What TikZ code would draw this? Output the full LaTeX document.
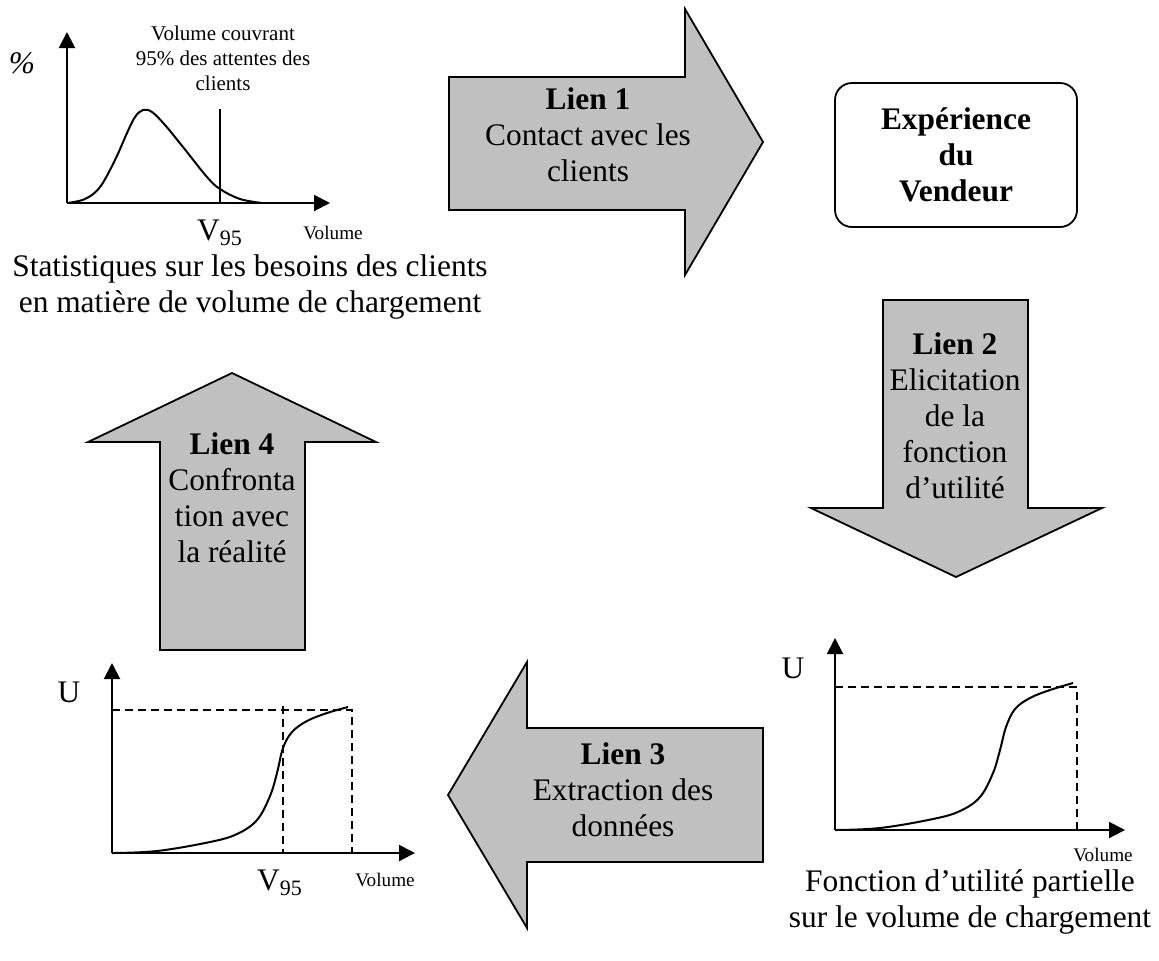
\documentclass[tikz,border=0pt]{standalone}
\usepackage{fontspec}
\setmainfont{Liberation Serif}
\usetikzlibrary{arrows.meta,positioning}
\definecolor{liengray}{RGB}{192,192,192}
\tikzset{>={Triangle[width=8pt,length=8pt]}}

\begin{document}
\begin{tikzpicture}[x=0.5pt,y=-0.5pt,
    lien/.style={draw, fill=liengray, line width=0.9pt},
    axe/.style={->, line width=1pt},
    guide/.style={line width=0.9pt, dash pattern=on 4pt off 2.5pt},
    courbe/.style={line width=1pt},
    txt/.style={font=\fontsize{15.7}{18}\selectfont, align=center},
    petit/.style={font=\fontsize{10.5}{12.5}\selectfont, align=center},
    axlabel/.style={font=\fontsize{9.6}{11}\selectfont}
  ]
  \useasboundingbox (0,0) rectangle (1159,960);

  % statistiques (haut gauche)
  \coordinate (o1) at (67,203);
  \draw[axe] (o1) -- (67,32);
  \draw[axe] (o1) -- (330,203);
  \draw[line width=0.9pt] (220,109) -- (220,203);
  \draw[courbe] plot[smooth, tension=0.6] coordinates {(67,203) (85,199) (100,187) (115,160) (127,133) (135,117) (143,110) (152,112) (165,125) (183,147) (207,177) (220,189) (240,199) (262,203)};
  \node[txt, font=\fontsize{15.7}{18}\selectfont\itshape] (pct) at (22,63) {\%};
  \node[petit] (v95note) at (223,58) {Volume couvrant\\95\% des attentes des\\clients};
  \node[txt] (v95a) at (220,233) {V\textsubscript{95}};
  \node[axlabel] (vola) at (333,233) {Volume};
  \node[txt] (stat) at (250,287) {Statistiques sur les besoins des clients\\en matière de volume de chargement};

  % les quatre liens
  \draw[lien] (449,77) -- (685,77) -- (685,9) -- (763,142) -- (685,275) -- (685,210) -- (449,210) -- cycle;
  \node[txt] (lien1) at (588,135) {\textbf{Lien 1}\\Contact avec les\\clients};

  \node[txt, draw, line width=0.9pt, rounded corners=8.5pt, minimum width=121pt, minimum height=72pt] (vendeur) at (956,155) {\textbf{Expérience}\\\textbf{du}\\\textbf{Vendeur}};

  \draw[lien] (883,300) -- (1028,300) -- (1028,508) -- (1102,508) -- (956,577) -- (811,508) -- (883,508) -- cycle;
  \node[txt] (lien2) at (955,416) {\textbf{Lien 2}\\Elicitation\\de la\\fonction\\d’utilité};

  \draw[lien] (763,728) -- (527,728) -- (527,662) -- (448,795) -- (527,928) -- (527,862) -- (763,862) -- cycle;
  \node[txt] (lien3) at (623,790) {\textbf{Lien 3}\\Extraction des\\données};

  \draw[lien] (160,650) -- (160,442) -- (88,442) -- (232,373) -- (376,442) -- (305,442) -- (305,650) -- cycle;
  \node[txt] (lien4) at (232,498) {\textbf{Lien 4}\\Confronta\\tion avec\\la réalité};

  % utilite (bas droite)
  \coordinate (o2) at (835,830);
  \draw[axe] (o2) -- (835,638);
  \draw[axe] (o2) -- (1125,830);
  \draw[guide] (835,687) -- (1077,687) -- (1077,830);
  \draw[courbe] plot[smooth, tension=0.6] coordinates {(835,830) (880,828) (933,819) (960,811) (980,797) (993,773) (1000,750) (1006,727) (1015,709) (1030,698) (1050,690) (1073,683)};
  \node[txt] (u2) at (793,668) {U};
  \node[axlabel] (volb) at (1103,855) {Volume};
  \node[txt] (fonc) at (970,902) {Fonction d’utilité partielle\\sur le volume de chargement};

  % confrontation (bas gauche)
  \coordinate (o3) at (112,853);
  \draw[axe] (o3) -- (112,663);
  \draw[axe] (o3) -- (415,853);
  \draw[guide] (112,710) -- (352,710) -- (352,853);
  \draw[guide] (283,706) -- (283,853);
  \draw[courbe] plot[smooth, tension=0.6] coordinates {(112,853) (157,851) (210,842) (237,834) (257,820) (270,796) (277,773) (283,748) (292,732) (307,721) (327,713) (348,707)};
  \node[txt] (u3) at (69,692) {U};
  \node[txt] (v95c) at (280,883) {V\textsubscript{95}};
  \node[axlabel] (volc) at (385,880) {Volume};
\end{tikzpicture}
\end{document}
